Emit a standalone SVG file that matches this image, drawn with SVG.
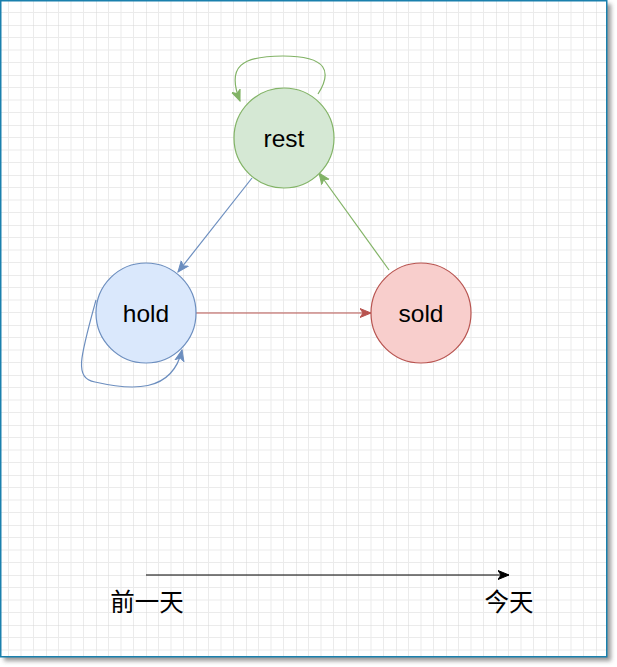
<svg xmlns="http://www.w3.org/2000/svg" width="617" height="667" viewBox="0 0 617 667">
<style>
.lbl{font-family:"Liberation Sans",Arial,sans-serif;font-size:24.5px;fill:#000;text-anchor:middle}
.cjk{font-family:"Liberation Sans","Noto Sans CJK SC",sans-serif;font-size:24.5px;fill:#000;text-anchor:middle}
.e{fill:none;stroke-width:1.2}
</style>
<defs>
<filter id="sh" x="-5%" y="-5%" width="110%" height="110%"><feGaussianBlur stdDeviation="2"/></filter>
<pattern id="grid" patternUnits="userSpaceOnUse" x="46" y="25" width="50" height="50">
<path d="M12.5,0V50M25,0V50M37.5,0V50M0,12.5H50M0,25H50M0,37.5H50" stroke="#ebebeb" stroke-width="1" fill="none"/>
<path d="M0,0V50M0,0H50" stroke="#d8d8d8" stroke-width="1" fill="none"/>
</pattern>
<marker id="aB" markerUnits="userSpaceOnUse" markerWidth="12" markerHeight="12" viewBox="0 0 12 12" refX="11" refY="6" orient="auto"><path d="M0,1.5L11,6L0,10.5L3,6z" fill="#6c8ebf" stroke="#6c8ebf"/></marker>
<marker id="aR" markerUnits="userSpaceOnUse" markerWidth="12" markerHeight="12" viewBox="0 0 12 12" refX="11" refY="6" orient="auto"><path d="M0,1.5L11,6L0,10.5L3,6z" fill="#b85450" stroke="#b85450"/></marker>
<marker id="aG" markerUnits="userSpaceOnUse" markerWidth="12" markerHeight="12" viewBox="0 0 12 12" refX="11" refY="6" orient="auto"><path d="M0,1.5L11,6L0,10.5L3,6z" fill="#82b366" stroke="#82b366"/></marker>
<marker id="aK" markerUnits="userSpaceOnUse" markerWidth="12" markerHeight="12" viewBox="0 0 12 12" refX="11" refY="6" orient="auto"><path d="M0,1.5L11,6L0,10.5L3,6z" fill="#000" stroke="#000"/></marker>
</defs>
<rect width="617" height="667" fill="#ffffff"/>
<rect x="4" y="4" width="607" height="657" fill="#555" opacity="0.6" filter="url(#sh)"/>
<rect x="0" y="0" width="607" height="657" fill="#ffffff"/>
<rect x="0" y="0" width="607" height="657" fill="url(#grid)"/>
<rect x="0.75" y="0.75" width="606" height="656" fill="none" stroke="#1a80ad" stroke-width="1.5"/>
<g id="connectors">
<path class="e" stroke="#6c8ebf" d="M252,178L178,272" marker-end="url(#aB)"/>
<path class="e" stroke="#b85450" d="M196,313L371,313" marker-end="url(#aR)"/>
<path class="e" stroke="#82b366" d="M389,270L319,173" marker-end="url(#aG)"/>
<path class="e" stroke="#82b366" d="M318,94C332,72 328,56 283,56C242,56 226,66 240,101" marker-end="url(#aG)"/>
<path class="e" stroke="#6c8ebf" d="M96,300C80,358 74,378 95,382C130,390 172,394 182,350" marker-end="url(#aB)"/>
<path class="e" stroke="#000" d="M146,575L509,575" marker-end="url(#aK)"/>
</g>
<g id="rest"><circle cx="284" cy="138" r="50" fill="#d5e8d4" stroke="#82b366" stroke-width="1.2"/><text class="lbl" x="284" y="147">rest</text></g>
<g id="hold"><circle cx="146" cy="313" r="50" fill="#dae8fc" stroke="#6c8ebf" stroke-width="1.2"/><text class="lbl" x="146" y="322">hold</text></g>
<g id="sold"><circle cx="421" cy="313" r="50" fill="#f8cecc" stroke="#b85450" stroke-width="1.2"/><text class="lbl" x="421" y="322">sold</text></g>
<g id="label-prev"><text class="cjk" x="147" y="611">前一天</text></g>
<g id="label-today"><text class="cjk" x="509" y="611">今天</text></g>
</svg>
